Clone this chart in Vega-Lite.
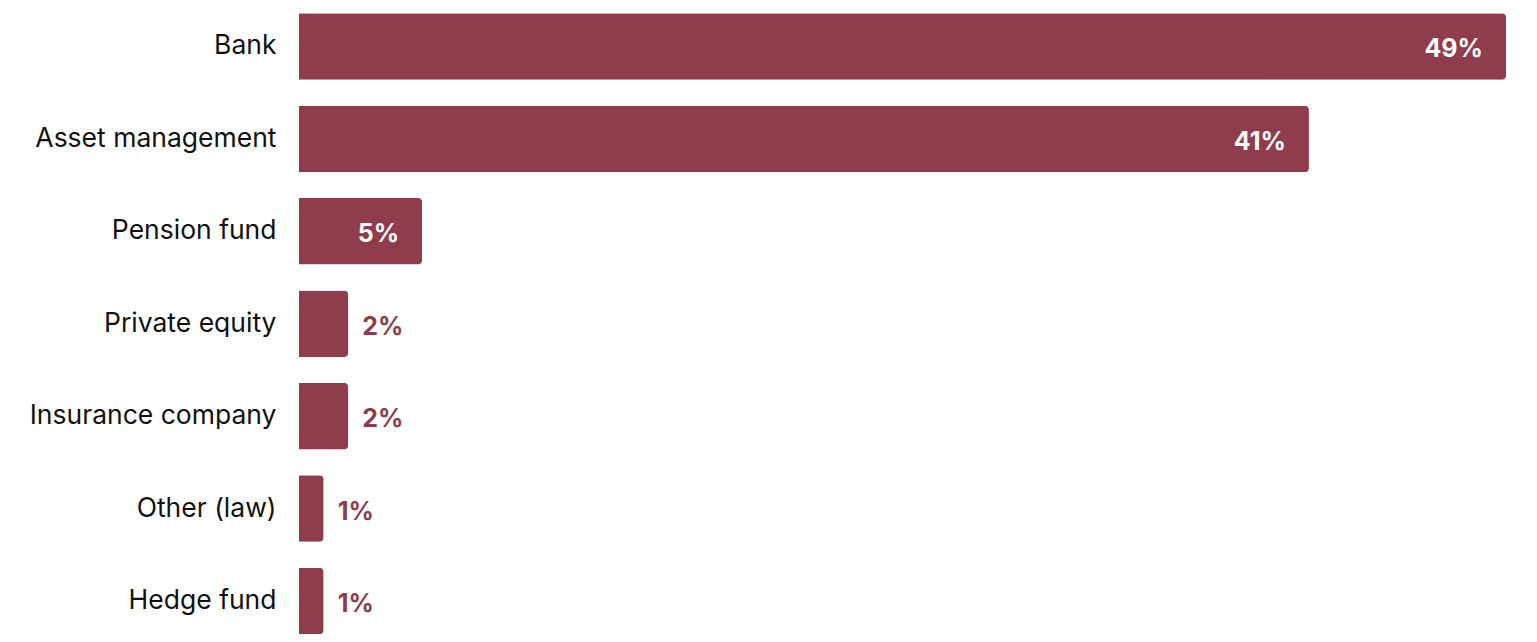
{
  "$schema": "https://vega.github.io/schema/vega-lite/v6.json",
  "width": 1207,
  "height": 647.5,
  "autosize": {"type": "none"},
  "padding": {"left": 299, "top": 0, "right": 31, "bottom": 0},
  "background": "white",
  "config": {
    "view": {"stroke": null},
    "font": "Inter"
  },
  "data": {
    "values": [
      {"type": "Bank", "share": 0.49},
      {"type": "Asset management", "share": 0.41},
      {"type": "Pension fund", "share": 0.05},
      {"type": "Private equity", "share": 0.02},
      {"type": "Insurance company", "share": 0.02},
      {"type": "Other (law)", "share": 0.01},
      {"type": "Hedge fund", "share": 0.01}
    ]
  },
  "encoding": {
    "y": {
      "field": "type",
      "type": "nominal",
      "sort": null,
      "title": null,
      "scale": {"paddingInner": 0.28, "paddingOuter": 0.143},
      "axis": {
        "domain": false,
        "ticks": false,
        "labelFontSize": 26.5,
        "labelColor": "#111111",
        "labelPadding": 23,
        "labelFont": "Inter",
        "labelLimit": 400
      }
    },
    "x": {
      "field": "share",
      "type": "quantitative",
      "scale": {"domain": [0, 0.49], "nice": false},
      "axis": null
    }
  },
  "layer": [
    {
      "mark": {"type": "bar", "color": "#8F3D4C", "cornerRadiusEnd": 4}
    },
    {
      "transform": [{"filter": "datum.share >= 0.05"}],
      "mark": {
        "type": "text",
        "align": "right",
        "baseline": "middle",
        "dx": -23,
        "dy": 3,
        "fontSize": 25,
        "fontWeight": "bold",
        "color": "white"
      },
      "encoding": {"text": {"field": "share", "format": ".0%"}}
    },
    {
      "transform": [{"filter": "datum.share < 0.05"}],
      "mark": {
        "type": "text",
        "align": "left",
        "baseline": "middle",
        "dx": 14,
        "dy": 3,
        "fontSize": 25,
        "fontWeight": "bold",
        "color": "#8F3D4C"
      },
      "encoding": {"text": {"field": "share", "format": ".0%"}}
    }
  ]
}
